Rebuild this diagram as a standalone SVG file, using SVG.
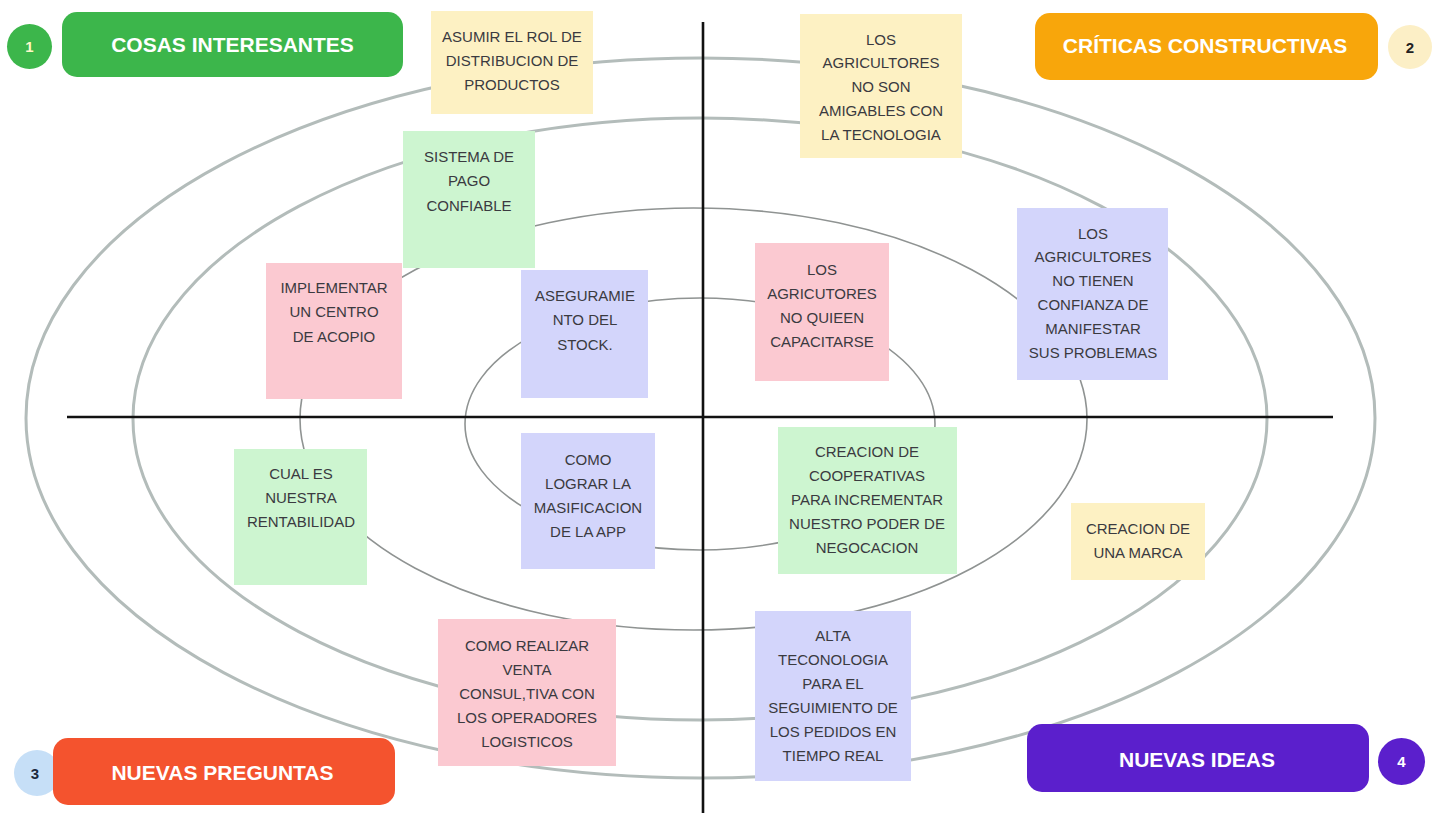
<svg xmlns="http://www.w3.org/2000/svg" width="1435" height="813" viewBox="0 0 1435 813">
  <style>
    .ring { fill: none; }
    .ring-outer { stroke: #b3bcba; stroke-width: 3; }
    .ring-inner { stroke: #8f9392; stroke-width: 1.6; }
    .axis { stroke: #111; stroke-width: 2.6; }
    .note-text { font-family: "Liberation Sans", Arial, sans-serif; font-size: 15px; fill: #3a3a40; text-anchor: middle; }
    .yellow { fill: #fdf1c3; }
    .green { fill: #cdf5d0; }
    .pink { fill: #fbc9d1; }
    .lavender { fill: #d3d5fb; }
    .head-text { font-family: "Liberation Sans", Arial, sans-serif; font-size: 21px; font-weight: bold; fill: #ffffff; text-anchor: middle; }
    .num-text { font-family: "Liberation Sans", Arial, sans-serif; font-size: 15px; font-weight: bold; text-anchor: middle; }
  </style>

  <rect width="1435" height="813" fill="#ffffff"/>

  <!-- concentric rings -->
  <g id="rings">
    <ellipse class="ring ring-outer" cx="700.5" cy="418" rx="674.5" ry="360"/>
    <ellipse class="ring ring-outer" cx="700" cy="419" rx="567" ry="301"/>
    <ellipse class="ring ring-inner" cx="693.5" cy="419" rx="393.5" ry="211"/>
    <ellipse class="ring ring-inner" cx="700" cy="424" rx="235" ry="126"/>
  </g>

  <!-- quadrant axes -->
  <g id="connectors">
    <line class="axis" x1="703" y1="22" x2="703" y2="813"/>
    <line class="axis" x1="67" y1="417" x2="1333" y2="417"/>
  </g>

  <!-- sticky notes -->
  <g id="note-asumir">
    <rect class="yellow" x="431" y="11" width="162" height="103"/>
    <text class="note-text"><tspan x="512" y="42">ASUMIR EL ROL DE</tspan><tspan x="512" y="66">DISTRIBUCION DE</tspan><tspan x="512" y="90">PRODUCTOS</tspan></text>
  </g>
  <g id="note-amigables">
    <rect class="yellow" x="800" y="14" width="162" height="144"/>
    <text class="note-text"><tspan x="881" y="45">LOS</tspan><tspan x="881" y="68">AGRICULTORES</tspan><tspan x="881" y="92">NO SON</tspan><tspan x="881" y="116">AMIGABLES CON</tspan><tspan x="881" y="140">LA TECNOLOGIA</tspan></text>
  </g>
  <g id="note-pago">
    <rect class="green" x="403" y="131" width="132" height="137"/>
    <text class="note-text"><tspan x="469" y="162">SISTEMA DE</tspan><tspan x="469" y="186">PAGO</tspan><tspan x="469" y="211">CONFIABLE</tspan></text>
  </g>
  <g id="note-acopio">
    <rect class="pink" x="266" y="263" width="136" height="136"/>
    <text class="note-text"><tspan x="334" y="293">IMPLEMENTAR</tspan><tspan x="334" y="317">UN CENTRO</tspan><tspan x="334" y="342">DE ACOPIO</tspan></text>
  </g>
  <g id="note-stock">
    <rect class="lavender" x="521" y="270" width="127" height="128"/>
    <text class="note-text"><tspan x="585" y="301">ASEGURAMIE</tspan><tspan x="585" y="325">NTO DEL</tspan><tspan x="585" y="350">STOCK.</tspan></text>
  </g>
  <g id="note-capacitarse">
    <rect class="pink" x="755" y="243" width="134" height="138"/>
    <text class="note-text"><tspan x="822" y="275">LOS</tspan><tspan x="822" y="299">AGRICUTORES</tspan><tspan x="822" y="323">NO QUIEEN</tspan><tspan x="822" y="347">CAPACITARSE</tspan></text>
  </g>
  <g id="note-confianza">
    <rect class="lavender" x="1017" y="208" width="151" height="172"/>
    <text class="note-text"><tspan x="1093" y="239">LOS</tspan><tspan x="1093" y="262">AGRICULTORES</tspan><tspan x="1093" y="286">NO TIENEN</tspan><tspan x="1093" y="310">CONFIANZA DE</tspan><tspan x="1093" y="334">MANIFESTAR</tspan><tspan x="1093" y="358">SUS PROBLEMAS</tspan></text>
  </g>
  <g id="note-rentabilidad">
    <rect class="green" x="234" y="449" width="133" height="136"/>
    <text class="note-text"><tspan x="301" y="479">CUAL ES</tspan><tspan x="301" y="503">NUESTRA</tspan><tspan x="301" y="527">RENTABILIDAD</tspan></text>
  </g>
  <g id="note-masificacion">
    <rect class="lavender" x="521" y="433" width="134" height="136"/>
    <text class="note-text"><tspan x="588" y="465">COMO</tspan><tspan x="588" y="489">LOGRAR LA</tspan><tspan x="588" y="513">MASIFICACION</tspan><tspan x="588" y="537">DE LA APP</tspan></text>
  </g>
  <g id="note-cooperativas">
    <rect class="green" x="778" y="427" width="179" height="147"/>
    <text class="note-text"><tspan x="867" y="457">CREACION DE</tspan><tspan x="867" y="481">COOPERATIVAS</tspan><tspan x="867" y="505">PARA INCREMENTAR</tspan><tspan x="867" y="529">NUESTRO PODER DE</tspan><tspan x="867" y="553">NEGOCACION</tspan></text>
  </g>
  <g id="note-marca">
    <rect class="yellow" x="1071" y="503" width="134" height="77"/>
    <text class="note-text"><tspan x="1138" y="534">CREACION DE</tspan><tspan x="1138" y="558">UNA MARCA</tspan></text>
  </g>
  <g id="note-venta">
    <rect class="pink" x="438" y="619" width="178" height="147"/>
    <text class="note-text"><tspan x="527" y="651">COMO REALIZAR</tspan><tspan x="527" y="675">VENTA</tspan><tspan x="527" y="699">CONSUL,TIVA CON</tspan><tspan x="527" y="723">LOS OPERADORES</tspan><tspan x="527" y="747">LOGISTICOS</tspan></text>
  </g>
  <g id="note-seguimiento">
    <rect class="lavender" x="755" y="611" width="156" height="170"/>
    <text class="note-text"><tspan x="833" y="641">ALTA</tspan><tspan x="833" y="665">TECONOLOGIA</tspan><tspan x="833" y="689">PARA EL</tspan><tspan x="833" y="713">SEGUIMIENTO DE</tspan><tspan x="833" y="737">LOS PEDIDOS EN</tspan><tspan x="833" y="761">TIEMPO REAL</tspan></text>
  </g>

  <!-- quadrant headers -->
  <g id="header-1">
    <circle cx="29.5" cy="46.5" r="22.5" fill="#3cb64b"/>
    <text class="num-text" x="29.5" y="52" fill="#fff8c8">1</text>
    <rect x="62" y="12" width="341" height="65" rx="15" fill="#3cb64b"/>
    <text class="head-text" x="232.5" y="52">COSAS INTERESANTES</text>
  </g>
  <g id="header-2">
    <rect x="1035" y="13" width="343" height="67" rx="15" fill="#f8a60b"/>
    <text class="head-text" x="1205" y="53" font-size="21.5">CRÍTICAS CONSTRUCTIVAS</text>
    <circle cx="1410" cy="47" r="22" fill="#fcefc6"/>
    <text class="num-text" x="1410" y="52.5" fill="#222222">2</text>
  </g>
  <g id="header-3">
    <circle cx="37" cy="773" r="23" fill="#c6dff7"/>
    <text class="num-text" x="35" y="778.5" fill="#1c2a3c">3</text>
    <rect x="53" y="738" width="342" height="67" rx="15" fill="#f4532e"/>
    <text class="head-text" x="222.5" y="780">NUEVAS PREGUNTAS</text>
  </g>
  <g id="header-4">
    <rect x="1027" y="724" width="342" height="68" rx="15" fill="#5b1fcc"/>
    <text class="head-text" x="1197" y="767">NUEVAS IDEAS</text>
    <circle cx="1401.5" cy="761.5" r="23.5" fill="#5b1fcc"/>
    <text class="num-text" x="1401.5" y="767" fill="#ffffff">4</text>
  </g>
</svg>
